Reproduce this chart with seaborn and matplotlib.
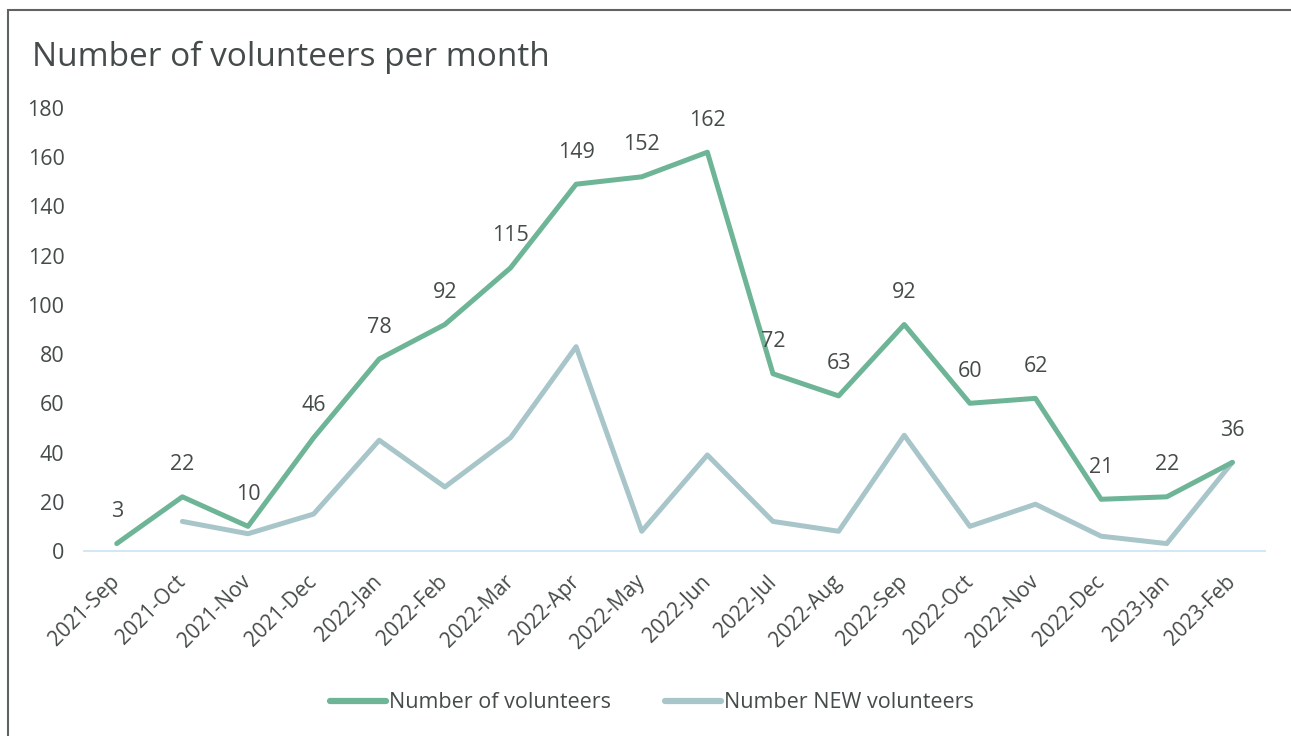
import pandas as pd
import numpy as np
import matplotlib.pyplot as plt
import seaborn as sns
from matplotlib.patches import Rectangle

sns.set_theme(style="white")
plt.rcParams["font.family"] = ["Open Sans", "DejaVu Sans"]

# data
months = ["2021-Sep", "2021-Oct", "2021-Nov", "2021-Dec", "2022-Jan", "2022-Feb",
          "2022-Mar", "2022-Apr", "2022-May", "2022-Jun", "2022-Jul", "2022-Aug",
          "2022-Sep", "2022-Oct", "2022-Nov", "2022-Dec", "2023-Jan", "2023-Feb"]
volunteers = [3, 22, 10, 46, 78, 92, 115, 149, 152, 162, 72, 63, 92, 60, 62, 21, 22, 36]
new_volunteers = [np.nan, 12, 7, 15, 45, 26, 46, 83, 8, 39, 12, 8, 47, 10, 19, 6, 3, 36]

series_names = ["Number of volunteers", "Number NEW volunteers"]
colors = ["#6db596", "#a8c6c9"]
text_color = "#454b4a"

df = pd.DataFrame({"month": months * 2,
                   "value": volunteers + new_volunteers,
                   "series": [series_names[0]] * len(months) + [series_names[1]] * len(months)})
df = df.dropna()

fig = plt.figure(figsize=(12.91, 7.36), dpi=100)
ax = fig.add_axes([0.065, 0.2514, 0.915, 0.602])

# grey series first so the green one sits on top
sns.lineplot(data=df, x="month", y="value", hue="series",
             hue_order=series_names[::-1], palette=colors[::-1],
             linewidth=3.6, sort=False, ax=ax, legend=False)

# data labels for total volunteers
for i, v in enumerate(volunteers):
    ax.annotate(str(v), (i, v), xytext=(0, 23), textcoords="offset points",
                ha="center", va="center", fontsize=15.5, color=text_color)

ax.set_xlim(-0.5, len(months) - 0.5)
ax.set_ylim(0, 180)
ax.set_yticks(range(0, 181, 20))
ax.set_xticks(range(len(months)))
ax.set_xticklabels(months, rotation=45, ha="right", va="center", rotation_mode="anchor")
ax.tick_params(axis="x", labelsize=15, colors=text_color, length=0, pad=20)
ax.tick_params(axis="y", labelsize=15.5, colors=text_color, length=0, pad=14)
ax.set_xlabel("")
ax.set_ylabel("")
for s in ["top", "right", "left"]:
    ax.spines[s].set_visible(False)
ax.spines["bottom"].set_color("#d3e8f4")
ax.spines["bottom"].set_linewidth(1.5)

fig.text(0.025, 0.922, "Number of volunteers per month", fontsize=24,
         color=text_color, ha="left", va="center")

handles = [plt.Line2D([], [], color=c, linewidth=4.5, solid_capstyle="round") for c in colors]
fig.legend(handles, series_names, loc="center", bbox_to_anchor=(0.505, 0.045),
           ncol=2, frameon=False, fontsize=15.5, labelcolor=text_color,
           handlelength=2.6, handletextpad=0.15, columnspacing=2.5)

# outer frame (only top and left edges visible in the reference)
fig.patches.append(Rectangle((8 / 1291, -0.1), 1.2, 1.1 - 10 / 736,
                             transform=fig.transFigure, fill=False,
                             edgecolor="#5f6362", linewidth=1.5))

fig.savefig("out.png", dpi=100)
